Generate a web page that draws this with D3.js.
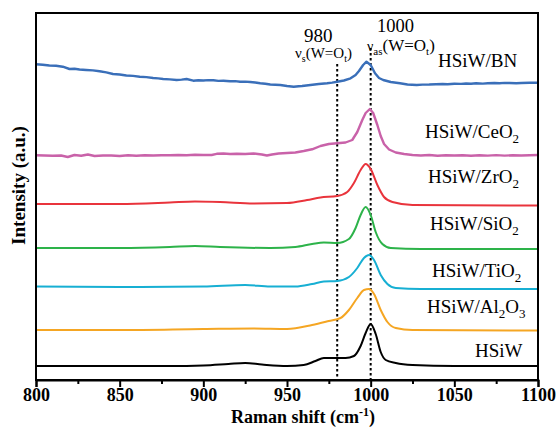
<!DOCTYPE html>
<html>
<head>
<meta charset="utf-8">
<script src="https://cdn.jsdelivr.net/npm/d3@7"></script>
<style>
  body { margin: 0; background: #fff; }
  text { font-family: 'Liberation Serif', 'Times New Roman', serif; }
</style>
</head>
<body>
<div id="chart"></div>
<script>
/* global d3 */

// Raman shift (cm-1) vs stacked intensity (a.u.)
const hsiw = [[800, 14], [850, 14], [880, 14], [900, 14.5], [915, 16], [925, 17], [935, 15.5], [950, 14],
  [960, 15], [967, 19], [972, 22], [978, 22], [985, 22], [990, 24], [994, 34], [997, 47], [1000, 56],
  [1003, 46], [1006, 28], [1009, 20], [1015, 17], [1025, 15], [1050, 14], [1100, 14]];

const al2o3 = [[800, 50], [850, 50], [900, 51], [930, 51.5], [950, 51], [965, 55], [975, 59], [982, 62],
  [987, 70], [992, 82], [996, 90], [999, 91], [1002, 86], [1006, 70], [1010, 58], [1015, 52], [1025, 50],
  [1100, 49.5]];

const tio2 = [[800, 93.5], [850, 93], [900, 93.5], [925, 95], [940, 93.5], [955, 93.5], [965, 96],
  [972, 98.5], [980, 99], [987, 103], [992, 112], [996, 122], [999, 125], [1002, 120], [1006, 105],
  [1010, 96], [1015, 92], [1030, 91], [1100, 91]];

const sio2 = [[800, 132], [850, 132], [880, 133], [895, 134], [910, 133], [940, 132], [955, 133], [965, 136],
  [972, 137.5], [980, 137], [987, 141], [991, 152], [994, 165], [997, 173], [1000, 165], [1003, 148],
  [1007, 136], [1012, 132], [1030, 131], [1100, 131]];

const zro2 = [[800, 176], [850, 176], [880, 177.5], [895, 178.5], [910, 178], [930, 176.5], [950, 177],
  [962, 180], [970, 182.5], [980, 184], [986, 188], [990, 197], [994, 210], [997, 216], [1000, 211],
  [1004, 195], [1008, 183], [1013, 178], [1025, 175], [1100, 174.5]];

const ceo2 = [[800, 224.7], [805, 224.5], [810, 224.2], [815, 224.5], [819, 223], [823, 225], [827, 224.2],
  [831, 225.5], [835, 224], [840, 224.5], [845, 224.5], [850, 224], [855, 224.7], [860, 224.2],
  [865, 224.8], [870, 224.5], [875, 224.7], [880, 224.7], [885, 225], [890, 224.7], [895, 225.2],
  [900, 225], [905, 225], [908, 226.2], [912, 226.5], [916, 226], [920, 226.2], [925, 226], [930, 226.5],
  [935, 225.5], [938, 224.5], [941, 225.5], [945, 226.5], [950, 227], [955, 227.5], [960, 229],
  [965, 230.7], [970, 234], [975, 236], [980, 236.7], [985, 237.5], [989, 240], [992, 248], [995, 260],
  [997, 267], [999.5, 271], [1001.5, 267], [1004, 255], [1006, 244], [1008, 236], [1011, 230.5],
  [1015, 227.5], [1020, 226], [1025, 225], [1030, 224.5], [1035, 225], [1040, 224.2], [1045, 224.7],
  [1050, 224.5], [1055, 224.8], [1060, 224.2], [1065, 224.7], [1070, 224.4], [1075, 224.9],
  [1080, 224.4], [1085, 224.8], [1090, 224.5], [1095, 224.7], [1100, 225]];

const bn = [[800, 315.7], [804, 315.3], [808, 314.5], [812, 314.2], [816, 313.3], [820, 311], [823, 311.3],
  [826, 310.5], [830, 310], [834, 309.6], [838, 308.7], [842, 307.6], [846, 306], [850, 305.5],
  [854, 304.5], [858, 304.1], [862, 303.3], [866, 302.9], [870, 302], [873, 301.6], [876, 301],
  [880, 300.6], [884, 300], [887, 300.4], [890, 301], [894, 299.3], [897, 299.8], [900, 299.5],
  [903, 299.9], [906, 299.7], [909, 299.1], [912, 299.2], [916, 298.7], [919, 298.9], [922, 298.3],
  [925, 298.4], [928, 298], [931, 297.5], [934, 296.7], [937, 296.3], [940, 295.5], [943, 295.2],
  [946, 295], [950, 294], [954, 293.3], [957, 293.8], [959, 294], [964, 295], [969, 296], [974, 296.7],
  [977, 297.4], [980, 298.3], [984, 299.5], [988, 301.7], [991, 305], [993, 309], [995.5, 315],
  [997.5, 318.3], [1000, 315], [1002.6, 306.7], [1005, 302], [1007.5, 300], [1012, 298],
  [1017.5, 296.7], [1022, 295.5], [1027.5, 295], [1031, 295.4], [1035, 295.5], [1039, 295.8],
  [1043, 296], [1046, 295.7], [1050, 296.3], [1054, 296.1], [1057, 296.5], [1060, 296.3], [1063, 296.7],
  [1067, 296.4], [1070, 296.7], [1074, 297], [1077, 296.8], [1080, 297.1], [1083, 297], [1087, 296.8],
  [1090, 297], [1095, 297.2], [1100, 297.3]];

const seriesNames = ['HSiW', 'HSiW/Al2O3', 'HSiW/TiO2', 'HSiW/SiO2', 'HSiW/ZrO2', 'HSiW/CeO2', 'HSiW/BN'];
const seriesData = [hsiw, al2o3, tio2, sio2, zro2, ceo2, bn];
const seriesColors = ['#000000', '#f5a623', '#17afd3', '#2db34a', '#e9343c', '#c962a9', '#3a6fb9'];
const noisy = [false, false, false, false, false, true, true];

const xTicks = [800, 850, 900, 950, 1000, 1050, 1100];
const xMinorTicks = [825, 875, 925, 975, 1025, 1075];
const markers = [980, 1000];

const width = 556;
const height = 435;
const margin = {
  top: 13, right: 18, bottom: 55, left: 36,
};

const svg = d3.select('#chart')
  .append('svg')
  .attr('width', width)
  .attr('height', height);

const x = d3.scaleLinear()
  .domain([800, 1100])
  .range([margin.left, width - margin.right]);

const y = d3.scaleLinear()
  .domain([0, 367])
  .range([height - margin.bottom, margin.top]);

// dotted marker lines (behind the spectra)
const markerTop = [316, 332];
svg.selectAll('.marker')
  .data(markers)
  .enter()
  .append('line')
  .attr('class', 'marker')
  .attr('x1', (d) => x(d))
  .attr('x2', (d) => x(d))
  .attr('y1', (d, i) => y(markerTop[i]))
  .attr('y2', y(0))
  .attr('stroke', '#000')
  .attr('stroke-width', 2)
  .attr('stroke-dasharray', '2.5,2.5');

// spectra
seriesData.forEach((data, i) => {
  const line = d3.line()
    .x((d) => x(d[0]))
    .y((d) => y(d[1]))
    .curve(noisy[i] ? d3.curveLinear : d3.curveMonotoneX);
  svg.append('path')
    .datum(data)
    .attr('d', line)
    .attr('fill', 'none')
    .attr('stroke', seriesColors[i])
    .attr('stroke-width', noisy[i] ? 2.4 : 2)
    .attr('stroke-linejoin', 'round');
});

// series labels
const labelPos = [[475, 357], [427, 313], [432, 277], [430, 230], [428, 183], [425, 138], [438, 67]];
seriesNames.forEach((name, i) => {
  const t = svg.append('text')
    .attr('x', labelPos[i][0])
    .attr('y', labelPos[i][1])
    .style('font-size', '19px');
  const parts = name.split(/(\d)/);
  parts.forEach((p) => {
    if (p === '') return;
    if (/\d/.test(p)) {
      t.append('tspan').attr('dy', 5).style('font-size', '13px').text(p);
    } else {
      const ts = t.append('tspan').text(p);
      if (t.selectAll('tspan').size() > 1) ts.attr('dy', -5);
    }
  });
});

// annotations
svg.append('text')
  .attr('x', x(980) - 19)
  .attr('y', 42)
  .attr('text-anchor', 'middle')
  .style('font-size', '19px')
  .text('980');

const a1 = svg.append('text')
  .attr('x', 295)
  .attr('y', 58)
  .style('font-size', '15px');
a1.append('tspan').text('ν');
a1.append('tspan').attr('dy', 4).style('font-size', '10px').text('s');
a1.append('tspan').attr('dy', -4).text('(W=O');
a1.append('tspan').attr('dy', 4).style('font-size', '10px').text('t');
a1.append('tspan').attr('dy', -4).text(')');

svg.append('text')
  .attr('x', 377)
  .attr('y', 32)
  .style('font-size', '18.5px')
  .text('1000');

const a2 = svg.append('text')
  .attr('x', 367)
  .attr('y', 51)
  .style('font-size', '17px');
a2.append('tspan').style('font-size', '14px').text('ν');
a2.append('tspan').attr('dy', 4).style('font-size', '11px').text('as');
a2.append('tspan').attr('dy', -4).text('(W=O');
a2.append('tspan').attr('dy', 4).style('font-size', '11px').text('t');
a2.append('tspan').attr('dy', -4).text(')');

// frame
svg.append('rect')
  .attr('x', margin.left)
  .attr('y', margin.top)
  .attr('width', width - margin.left - margin.right)
  .attr('height', height - margin.top - margin.bottom)
  .attr('fill', 'none')
  .attr('stroke', '#000')
  .attr('stroke-width', 2);

// x axis
const xAxis = svg.append('g')
  .attr('transform', `translate(0 ${y(0)})`)
  .call(d3.axisBottom(x).tickValues(xTicks).tickSize(7).tickFormat(d3.format('d')));
xAxis.select('.domain').attr('stroke-width', 2);
xAxis.selectAll('.tick line').attr('stroke-width', 2);
xAxis.selectAll('.tick text')
  .attr('y', 21)
  .attr('dy', 0)
  .style('font-family', "'Liberation Serif', serif")
  .style('font-size', '18px')
  .style('font-weight', 'bold')
  .attr('fill', '#000');

svg.append('g')
  .attr('transform', `translate(0 ${y(0)})`)
  .call(d3.axisBottom(x).tickValues(xMinorTicks).tickSize(4).tickFormat(''))
  .call((g) => g.select('.domain').remove())
  .selectAll('.tick line')
  .attr('stroke-width', 2);

// axis titles
const xTitle = svg.append('text')
  .attr('x', 231)
  .attr('y', 423)
  .style('font-size', '18px')
  .style('font-weight', 'bold');
xTitle.append('tspan').text('Raman shift (cm');
xTitle.append('tspan').attr('dy', -7).style('font-size', '12px').text('-1');
xTitle.append('tspan').attr('dy', 7).text(')');

svg.append('text')
  .attr('transform', 'translate(25 185.5) rotate(-90)')
  .attr('text-anchor', 'middle')
  .style('font-size', '19px')
  .style('font-weight', 'bold')
  .text('Intensity (a.u.)');
</script>
</body>
</html>
